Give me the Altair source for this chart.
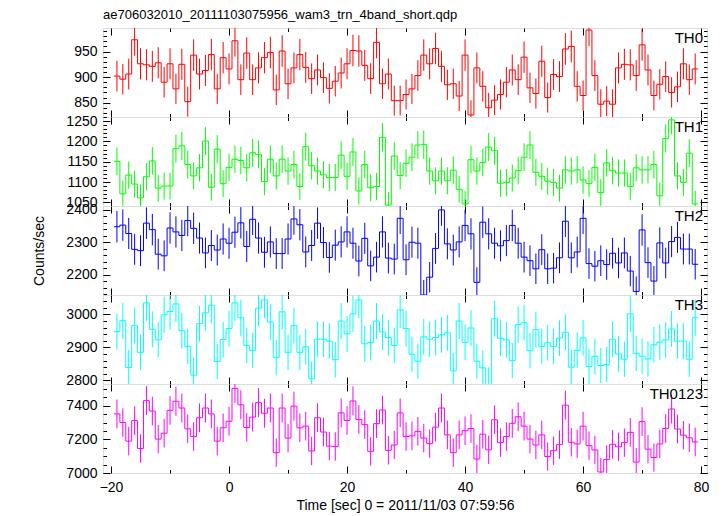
import altair as alt
import numpy as np
import pandas as pd

FONT = "Liberation Sans"
title_text = "ae706032010_20111103075956_wam3_trn_4band_short.qdp"
x_title = "Time [sec] 0 = 2011/11/03 07:59:56"
y_title = "Counts/sec"

t_first = -19.0   # centre of first bin [s]
bin_width = 1.0   # [s]

names = ["TH0", "TH1", "TH2", "TH3", "TH0123"]
colors = ["#ff0000", "#00ff00", "#0000ff", "#00ffff", "#ff00ff"]

th0 = [902, 896, 906, 973, 926, 924, 921, 928, 890, 926, 877, 925, 852, 943, 906, 913,
       944, 877, 938, 916, 971, 895, 947, 895, 918, 938, 948, 875, 951, 887, 918, 944,
       919, 897, 914, 899, 878, 892, 908, 926, 952, 951, 923, 897, 968, 887, 906, 854,
       854, 866, 877, 903, 943, 926, 956, 921, 885, 887, 863, 943, 826, 918, 882, 840,
       855, 866, 890, 914, 895, 939, 879, 868, 931, 860, 905, 901, 955, 960, 882, 864,
       992, 903, 847, 853, 847, 918, 925, 924, 903, 963, 914, 864, 886, 901, 870, 881,
       926, 895, 916]
th1 = [1151, 1071, 1117, 1095, 1061, 1113, 1152, 1085, 1090, 1090, 1182, 1189, 1143, 1115,
       1135, 1201, 1087, 1181, 1096, 1136, 1156, 1153, 1135, 1172, 1168, 1101, 1156, 1115,
       1156, 1127, 1143, 1089, 1187, 1140, 1127, 1118, 1111, 1111, 1166, 1114, 1174, 1078,
       1143, 1086, 1089, 1210, 1043, 1164,
       1116, 1146, 1161, 1191, 1192, 1127, 1103, 1127, 1103, 1129, 1082, 1046, 1155, 1127,
       1148, 1186, 1177, 1097, 1099, 1110, 1128, 1161, 1191, 1124, 1114, 1102, 1099, 1085,
       1130, 1127, 1130, 1105, 1096, 1136, 1074, 1147, 1128, 1122, 1122, 1089, 1135, 1130,
       1130, 1143, 1066, 1207, 1253, 1115, 1099, 1171, 1046]
th2 = [2348, 2353, 2327, 2278, 2274, 2359, 2339, 2263, 2258, 2344, 2332, 2321, 2367, 2343,
       2313, 2267, 2290, 2276, 2310, 2297, 2331, 2360, 2287, 2371, 2313, 2269, 2301, 2265,
       2265, 2310, 2372, 2354, 2270, 2290, 2359, 2299, 2253, 2291, 2301, 2332, 2297, 2242,
       2312, 2227, 2254, 2332, 2251, 2248,
       2374, 2246, 2300, 2297, 2137, 2192, 2281, 2400, 2295, 2276, 2301, 2352, 2326, 2176,
       2362, 2326, 2297, 2289, 2305, 2352, 2297, 2254, 2243, 2218, 2277, 2218, 2220, 2252,
       2365, 2252, 2270, 2374, 2234, 2226, 2243, 2231, 2266, 2236, 2267, 2211, 2148, 2338,
       2237, 2180, 2298, 2236, 2302, 2315, 2279, 2279, 2232]
th3 = [2948, 2981, 2839, 2966, 2885, 3035, 2955, 2923, 2999, 3009, 3032, 2951, 2903, 2816,
       2972, 3005, 3028, 2857, 2924, 2957, 3035, 2990, 2906, 2891, 3019, 3044, 2977, 2869,
       3008, 2885, 2966, 2885, 2902, 2805, 2925, 2925, 2919, 2863, 2980, 2941, 3002, 3044,
       2911, 2915, 2980, 2947, 2930, 2906,
       3014, 2957, 2879, 2858, 2932, 2925, 2930, 2938, 2944, 2829, 2980, 2915, 2959, 2858,
       2838, 2787, 2987, 2928, 2923, 2860, 2969, 2975, 2890, 2954, 2903, 2914, 2903, 2928,
       2946, 2840, 2891, 2929, 2842, 2873, 2845, 2848, 2925, 2880, 2864, 3002, 2882, 2873,
       2865, 2908, 2916, 2923, 2956, 2919, 2919, 2864, 2990]
th0123 = [7352, 7300, 7190, 7312, 7146, 7431, 7369, 7202, 7237, 7373, 7427, 7387, 7263, 7217,
          7329, 7387, 7352, 7190, 7269, 7308, 7504, 7406, 7271, 7333, 7419, 7356, 7387, 7121,
          7387, 7208, 7398, 7269, 7279, 7131, 7329, 7244, 7160, 7158, 7358, 7313, 7429, 7319,
          7288, 7129, 7294, 7375, 7135, 7167,
          7358, 7217, 7221, 7248, 7208, 7175, 7273, 7387, 7227, 7121, 7227, 7252, 7265, 7083,
          7231, 7138, 7317, 7181, 7217, 7296, 7335, 7279, 7202, 7167, 7227, 7098, 7133, 7169,
          7404, 7183, 7173, 7279, 7163, 7137, 7006, 7081, 7171, 7156, 7181, 7242, 7065, 7306,
          7142, 7092, 7173, 7265, 7381, 7262, 7225, 7210, 7185]
series = [th0, th1, th2, th3, th0123]

x_domain = [-21.36, 81.0]
x_major = [-20, 0, 20, 40, 60, 80]
x_minor = [-10, 10, 30, 50, 70]

y_domains = [[822, 996], [1041, 1260], [2137, 2412], [2789, 3059], [7000, 7530]]
y_major = [[850, 900, 950], [1050, 1100, 1150, 1200, 1250], [2200, 2300, 2400],
           [2800, 2900, 3000], [7000, 7200, 7400]]
y_minor = [list(range(830, 1000, 10)), list(range(1050, 1261, 10)),
           list(range(2140, 2412, 20)), list(range(2800, 3060, 20)),
           list(range(7000, 7530, 50))]

W, H = 604, 89
MAJ, MIN = 7, 3.5


def ax(**kw):
    base = dict(title=None, grid=False, domain=False, labels=False,
                tickColor="black", tickWidth=1)
    base.update(kw)
    return alt.Axis(**base)


def panel(i, last):
    vals = series[i]
    n = len(vals)
    t = t_first + np.arange(n) * bin_width
    step_df = pd.DataFrame({"t": np.append(t - bin_width / 2, t[-1] + bin_width / 2),
                            "rate": list(vals) + [vals[-1]]})
    err_df = pd.DataFrame({"t": t, "rate": vals})
    err_df["lo"] = err_df["rate"] - np.sqrt(err_df["rate"])
    err_df["hi"] = err_df["rate"] + np.sqrt(err_df["rate"])

    xs = alt.Scale(domain=x_domain, nice=False, zero=False)
    ys = alt.Scale(domain=y_domains[i], nice=False, zero=False)
    c = colors[i]

    ylab_kw = dict(orient="left", values=y_major[i], ticks=False, labels=True,
                   labelPadding=6, labelFontSize=14, format="d")
    if i == 2:
        ylab_kw.update(title=y_title, titleFontSize=14, titleFontWeight="normal",
                       titlePadding=19)
    l1 = alt.Chart(step_df).mark_line(interpolate="step-after", color=c,
                                      strokeWidth=1, clip=True).encode(
        x=alt.X("t:Q", scale=xs, axis=ax(orient="top", offset=-H, values=x_major, tickSize=MAJ)),
        y=alt.Y("rate:Q", scale=ys, axis=ax(**ylab_kw)),
    )
    l2 = alt.Chart(err_df).mark_rule(color=c, strokeWidth=1, clip=True).encode(
        x=alt.X("t:Q", scale=xs, axis=ax(orient="top", offset=-H, values=x_minor, tickSize=MIN)),
        y=alt.Y("lo:Q", scale=ys, axis=ax(orient="right", offset=-W, values=y_major[i], tickSize=MAJ)),
        y2="hi:Q",
    )
    l3 = alt.Chart(err_df).mark_rule(strokeOpacity=0, clip=True).encode(
        x=alt.X("t:Q", scale=xs, axis=ax(orient="bottom", offset=-H, values=x_major, tickSize=MAJ)),
        y=alt.Y("rate:Q", scale=ys, axis=ax(orient="right", offset=-W, values=y_minor[i], tickSize=MIN)),
    )
    l4 = alt.Chart(err_df).mark_rule(strokeOpacity=0, clip=True).encode(
        x=alt.X("t:Q", scale=xs, axis=ax(orient="bottom", offset=-H, values=x_minor, tickSize=MIN)),
        y=alt.Y("rate:Q", scale=ys, axis=ax(orient="left", offset=-W, values=y_major[i], tickSize=MAJ)),
    )
    if last:
        xl = ax(orient="bottom", values=x_major, ticks=False, labels=True, labelPadding=7,
                labelFontSize=14, title=x_title, titleFontSize=14, titleFontWeight="normal",
                titlePadding=4)
    else:
        xl = None
    l5 = alt.Chart(err_df).mark_rule(strokeOpacity=0, clip=True).encode(
        x=alt.X("t:Q", scale=xs, axis=xl),
        y=alt.Y("rate:Q", scale=ys, axis=ax(orient="left", offset=-W, values=y_minor[i], tickSize=MIN)),
    )
    txt = alt.Chart(pd.DataFrame({"name": [names[i]]})).mark_text(
        align="right", baseline="alphabetic", fontSize=15, font=FONT, color="black"
    ).encode(text="name:N", x=alt.value(W - 4), y=alt.value(15))

    layer = alt.layer(l1, l2, l3, l4, l5, txt).resolve_axis(x="independent", y="independent")
    props = dict(width=W, height=H)
    if i == 0:
        props["title"] = alt.TitleParams(title_text, anchor="start", frame="group",
                                         fontSize=13, font=FONT, fontWeight="normal",
                                         color="black", offset=6)
    return layer.properties(**props)


chart = alt.vconcat(*[panel(i, i == 4) for i in range(5)], spacing=0, bounds="flush").properties(
    padding={"left": 24, "top": 0, "right": 5, "bottom": 0}
).configure_view(stroke="black", strokeWidth=1).configure_axis(
    labelFont=FONT, titleFont=FONT, labelColor="black", titleColor="black"
).configure(background="white")

chart.save("out.html", embed_options={"renderer": "svg", "actions": False})
